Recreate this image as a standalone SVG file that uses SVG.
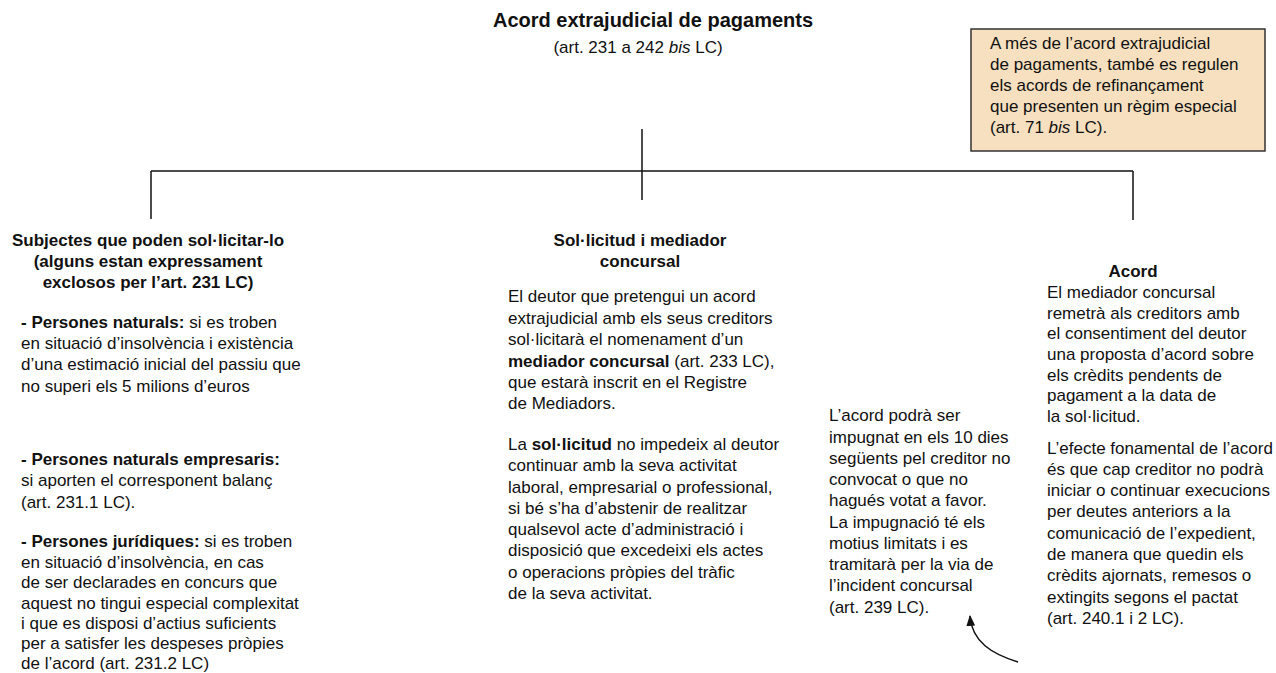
<svg xmlns="http://www.w3.org/2000/svg" width="1276" height="673" viewBox="0 0 1276 673">
<style>
text{font-family:"Liberation Sans",Arial,sans-serif;font-size:17px;fill:#111}
.b{font-weight:bold}
.i{font-style:italic}
.t{font-size:20px;font-weight:bold}
.c{text-anchor:middle}
.ln{stroke:#111;stroke-width:1.5;fill:none}
</style>
<defs>
<marker id="ah" viewBox="0 0 10 10" refX="9" refY="5" markerWidth="11" markerHeight="11" orient="auto-start-reverse" markerUnits="userSpaceOnUse">
<path d="M0,1 L10,5 L0,9 Z" fill="#111"/>
</marker>
</defs>
<rect width="1276" height="673" fill="#fff"/>
<g id="connectors">
<line class="ln" x1="642" y1="129" x2="642" y2="200"/>
<line class="ln" x1="151" y1="171" x2="1133" y2="171"/>
<line class="ln" x1="151" y1="171" x2="151" y2="219"/>
<line class="ln" x1="1133" y1="171" x2="1133" y2="220" stroke="#444"/>
<path class="ln" d="M1018,662 C992,654 972,642 970,616" marker-end="url(#ah)"/>
</g>
<g id="title">
<text class="t c" x="653" y="27">Acord extrajudicial de pagaments</text>
<text class="c" x="638" y="53">(art. 231 a 242 <tspan class="i">bis</tspan> LC)</text>
</g>
<g id="note">
<rect x="971" y="29" width="294" height="122" fill="#f6e0bf" stroke="#333" stroke-width="1.5"/>
<text x="990" y="49">A més de l’acord extrajudicial</text>
<text x="990" y="70">de pagaments, també es regulen</text>
<text x="990" y="91">els acords de refinançament</text>
<text x="990" y="112">que presenten un règim especial</text>
<text x="990" y="133">(art. 71 <tspan class="i">bis</tspan> LC).</text>
</g>
<g id="subjectes">
<text class="b c" x="148" y="246">Subjectes que poden sol·licitar-lo</text>
<text class="b c" x="148" y="267">(alguns estan expressament</text>
<text class="b c" x="148" y="288">exclosos per l’art. 231 LC)</text>
<text x="21" y="328"><tspan class="b">- Persones naturals:</tspan> si es troben</text>
<text x="21" y="349">en situació d’insolvència i existència</text>
<text x="21" y="370">d’una estimació inicial del passiu que</text>
<text x="21" y="392">no superi els 5 milions d’euros</text>
<text x="21" y="465" class="b">- Persones naturals empresaris:</text>
<text x="21" y="486">si aporten el corresponent balanç</text>
<text x="21" y="508">(art. 231.1 LC).</text>
<text x="21" y="547"><tspan class="b">- Persones jurídiques:</tspan> si es troben</text>
<text x="21" y="568">en situació d’insolvència, en cas</text>
<text x="21" y="588">de ser declarades en concurs que</text>
<text x="21" y="609">aquest no tingui especial complexitat</text>
<text x="21" y="629">i que es disposi d’actius suficients</text>
<text x="21" y="649">per a satisfer les despeses pròpies</text>
<text x="21" y="669">de l’acord (art. 231.2 LC)</text>
</g>
<g id="solicitud">
<text class="b c" x="640" y="246">Sol·licitud i mediador</text>
<text class="b c" x="640" y="267">concursal</text>
<text x="508" y="302">El deutor que pretengui un acord</text>
<text x="508" y="324">extrajudicial amb els seus creditors</text>
<text x="508" y="345">sol·licitarà el nomenament d’un</text>
<text x="508" y="367"><tspan class="b">mediador concursal</tspan> (art. 233 LC),</text>
<text x="508" y="388">que estarà inscrit en el Registre</text>
<text x="508" y="409">de Mediadors.</text>
<text x="508" y="450">La <tspan class="b">sol·licitud</tspan> no impedeix al deutor</text>
<text x="508" y="471">continuar amb la seva activitat</text>
<text x="508" y="493">laboral, empresarial o professional,</text>
<text x="508" y="514">si bé s’ha d’abstenir de realitzar</text>
<text x="508" y="535">qualsevol acte d’administració i</text>
<text x="508" y="556">disposició que excedeixi els actes</text>
<text x="508" y="578">o operacions pròpies del tràfic</text>
<text x="508" y="599">de la seva activitat.</text>
</g>
<g id="impugnacio">
<text x="829" y="421">L’acord podrà ser</text>
<text x="829" y="443">impugnat en els 10 dies</text>
<text x="829" y="464">següents pel creditor no</text>
<text x="829" y="485">convocat o que no</text>
<text x="829" y="506">hagués votat a favor.</text>
<text x="829" y="528">La impugnació té els</text>
<text x="829" y="549">motius limitats i es</text>
<text x="829" y="570">tramitarà per la via de</text>
<text x="829" y="591">l’incident concursal</text>
<text x="829" y="613">(art. 239 LC).</text>
</g>
<g id="acord">
<text class="b c" x="1133" y="277">Acord</text>
<text x="1047" y="298">El mediador concursal</text>
<text x="1047" y="319">remetrà als creditors amb</text>
<text x="1047" y="339">el consentiment del deutor</text>
<text x="1047" y="360">una proposta d’acord sobre</text>
<text x="1047" y="381">els crèdits pendents de</text>
<text x="1047" y="401">pagament a la data de</text>
<text x="1047" y="422">la sol·licitud.</text>
<text x="1047" y="454">L’efecte fonamental de l’acord</text>
<text x="1047" y="475">és que cap creditor no podrà</text>
<text x="1047" y="496">iniciar o continuar execucions</text>
<text x="1047" y="517">per deutes anteriors a la</text>
<text x="1047" y="539">comunicació de l’expedient,</text>
<text x="1047" y="560">de manera que quedin els</text>
<text x="1047" y="581">crèdits ajornats, remesos o</text>
<text x="1047" y="603">extingits segons el pactat</text>
<text x="1047" y="624"> (art. 240.1 i 2 LC).</text>
</g>
</svg>
